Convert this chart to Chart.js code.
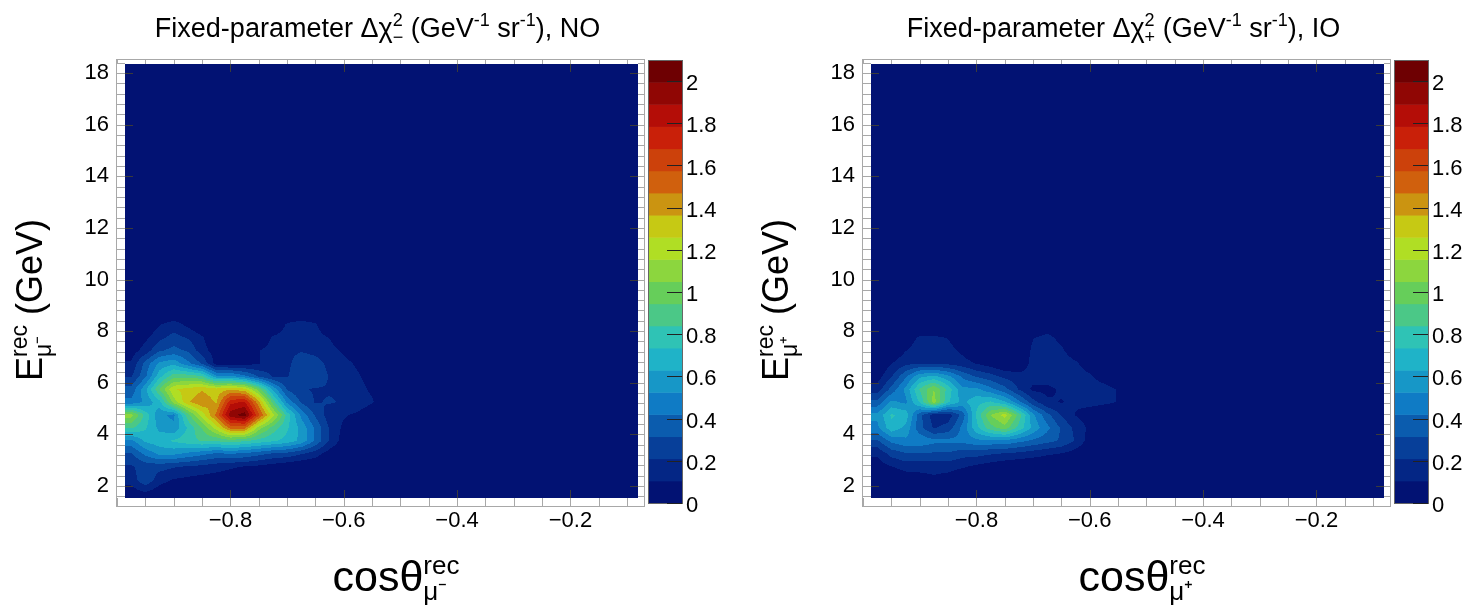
<!DOCTYPE html>
<html>
<head>
<meta charset="utf-8">
<script src="https://cdn.jsdelivr.net/npm/chart.js@4.4.1/dist/chart.umd.min.js"></script>
<style>
  html, body { margin: 0; padding: 0; background: #fff; }
  #wrap { position: relative; width: 1476px; height: 608px; overflow: hidden; }
  .panel { position: absolute; top: 0; width: 738px; height: 608px; }
  #left { left: 0; }
  #right { left: 738px; }
</style>
</head>
<body>
<div id="wrap">
  <div class="panel" id="left"><canvas id="chartNO" width="738" height="608"></canvas></div>
  <div class="panel" id="right"><canvas id="chartIO" width="738" height="608"></canvas></div>
</div>
<script>
// bin centres of the grid (cos theta, energy in GeV)
const cosBins = [-0.975, -0.95, -0.925, -0.9, -0.875, -0.85, -0.825, -0.8, -0.775, -0.75,
                 -0.725, -0.7, -0.675, -0.65, -0.625, -0.6, -0.575, -0.55, -0.525, -0.5];
const energyBins = [1.75, 2.25, 2.75, 3.25, 3.75, 4.25, 4.75, 5.25, 5.75, 6.25, 6.75, 7.25, 7.75, 8.25, 8.75];

// delta chi2 per bin, one row per energy bin (low to high)
const dchi2NO = [
  [0.05, 0.10, 0.04, 0.02, 0, 0, 0, 0, 0, 0, 0, 0, 0, 0, 0, 0, 0, 0, 0, 0],
  [0.15, 0.30, 0.15, 0.10, 0.08, 0.06, 0.05, 0.04, 0.03, 0.02, 0.01, 0, 0, 0, 0, 0, 0, 0, 0, 0],
  [0.20, 0.25, 0.25, 0.22, 0.20, 0.18, 0.15, 0.12, 0.10, 0.08, 0.05, 0.02, 0, 0, 0, 0, 0, 0, 0, 0],
  [0.30, 0.45, 0.55, 0.55, 0.50, 0.45, 0.40, 0.42, 0.40, 0.35, 0.30, 0.28, 0.22, 0.15, 0.05, 0, 0, 0, 0, 0],
  [0.50, 0.65, 0.70, 0.75, 0.80, 0.85, 0.85, 0.90, 0.85, 0.80, 0.75, 0.70, 0.60, 0.40, 0.20, 0.05, 0, 0, 0, 0],
  [0.85, 0.75, 0.60, 0.55, 0.75, 0.95, 1.20, 1.50, 1.50, 1.10, 0.90, 0.75, 0.60, 0.40, 0.20, 0.08, 0, 0, 0, 0],
  [1.10, 0.80, 0.55, 0.50, 0.90, 1.20, 1.50, 1.95, 2.05, 1.60, 1.20, 0.80, 0.50, 0.30, 0.15, 0.12, 0.08, 0, 0, 0],
  [0.45, 0.55, 0.70, 1.10, 1.35, 1.45, 1.35, 1.75, 1.80, 1.40, 0.90, 0.50, 0.30, 0.20, 0.22, 0.20, 0.18, 0.12, 0, 0],
  [0.35, 0.60, 0.95, 1.25, 1.30, 1.35, 1.30, 1.35, 1.30, 1.00, 0.60, 0.30, 0.22, 0.20, 0.20, 0.18, 0.15, 0.08, 0, 0],
  [0.20, 0.40, 0.70, 0.90, 0.90, 0.85, 0.55, 0.55, 0.45, 0.30, 0.20, 0.20, 0.30, 0.30, 0.20, 0.18, 0.12, 0.05, 0, 0],
  [0.12, 0.35, 0.55, 0.60, 0.45, 0.30, 0.06, 0.05, 0.06, 0.10, 0.15, 0.18, 0.28, 0.25, 0.18, 0.15, 0.08, 0, 0, 0],
  [0.05, 0.15, 0.30, 0.35, 0.30, 0.15, 0.05, 0, 0, 0.10, 0.15, 0.18, 0.20, 0.18, 0.15, 0.08, 0, 0, 0, 0],
  [0, 0.08, 0.18, 0.25, 0.20, 0.12, 0, 0, 0, 0, 0.12, 0.15, 0.18, 0.15, 0.10, 0, 0, 0, 0, 0],
  [0, 0, 0.10, 0.15, 0.08, 0, 0, 0, 0, 0, 0, 0.12, 0.15, 0.12, 0, 0, 0, 0, 0, 0],
  [0, 0, 0, 0, 0, 0, 0, 0, 0, 0, 0, 0, 0, 0, 0, 0, 0, 0, 0, 0]
];
const dchi2IO = [
  [0, 0, 0, 0, 0, 0, 0, 0, 0, 0, 0, 0, 0, 0, 0, 0, 0, 0, 0, 0],
  [0, 0, 0.03, 0.05, 0.08, 0.05, 0, 0, 0, 0, 0, 0, 0, 0, 0, 0, 0, 0, 0, 0],
  [0.05, 0.10, 0.15, 0.15, 0.15, 0.15, 0.12, 0.08, 0.05, 0.02, 0, 0, 0, 0, 0, 0, 0, 0, 0, 0],
  [0.12, 0.25, 0.30, 0.30, 0.30, 0.30, 0.25, 0.25, 0.22, 0.20, 0.18, 0.15, 0.12, 0.10, 0.05, 0, 0, 0, 0, 0],
  [0.30, 0.45, 0.50, 0.50, 0.45, 0.45, 0.45, 0.50, 0.50, 0.50, 0.45, 0.40, 0.35, 0.30, 0.20, 0.05, 0, 0, 0, 0],
  [0.50, 0.70, 0.60, 0.35, 0.20, 0.25, 0.45, 0.70, 0.90, 1.00, 0.80, 0.60, 0.45, 0.30, 0.18, 0.08, 0, 0, 0, 0],
  [0.55, 0.75, 0.70, 0.35, 0.15, 0.15, 0.35, 0.75, 1.05, 1.20, 0.90, 0.55, 0.35, 0.20, 0.10, 0.05, 0, 0, 0, 0],
  [0.35, 0.55, 0.50, 0.75, 1.10, 0.75, 0.60, 0.70, 0.75, 0.65, 0.45, 0.25, 0.12, 0.10, 0.12, 0.14, 0.13, 0.10, 0, 0],
  [0.15, 0.35, 0.55, 0.85, 1.05, 0.80, 0.55, 0.55, 0.45, 0.35, 0.20, 0.08, 0.08, 0.12, 0.15, 0.15, 0.14, 0.10, 0, 0],
  [0.05, 0.20, 0.40, 0.60, 0.65, 0.55, 0.40, 0.30, 0.25, 0.18, 0.15, 0.15, 0.15, 0.18, 0.15, 0.12, 0.06, 0, 0, 0],
  [0, 0.10, 0.18, 0.20, 0.20, 0.18, 0.15, 0.10, 0.05, 0, 0, 0.15, 0.18, 0.15, 0.12, 0.05, 0, 0, 0, 0],
  [0, 0, 0.10, 0.15, 0.15, 0.15, 0.08, 0, 0, 0, 0, 0.13, 0.15, 0.12, 0.05, 0, 0, 0, 0, 0],
  [0, 0, 0.05, 0.12, 0.12, 0.10, 0, 0, 0, 0, 0, 0.10, 0.13, 0.08, 0, 0, 0, 0, 0, 0],
  [0, 0, 0, 0, 0, 0, 0, 0, 0, 0, 0, 0, 0.05, 0, 0, 0, 0, 0, 0, 0],
  [0, 0, 0, 0, 0, 0, 0, 0, 0, 0, 0, 0, 0, 0, 0, 0, 0, 0, 0, 0]
];

const xTicks = [-0.8, -0.6, -0.4, -0.2];
const yTicks = [2, 4, 6, 8, 10, 12, 14, 16, 18];
const zTicks = [0, 0.2, 0.4, 0.6, 0.8, 1, 1.2, 1.4, 1.6, 1.8, 2];
const zMax = 2.1;
const nLevels = 20;

// ROOT kRainBow palette stops
const rbStops = [0, 0.125, 0.25, 0.375, 0.5, 0.625, 0.75, 0.875, 1];
const rbRed   = [0, 5, 15, 35, 102, 196, 208, 199, 110];
const rbGreen = [0, 48, 124, 192, 206, 226, 97, 16, 0];
const rbBlue  = [99, 142, 198, 201, 90, 22, 13, 8, 2];

const FONT = '"Liberation Sans", Arial, Helvetica, sans-serif';

function paletteAt(f) {
  let k = 0;
  while (k < rbStops.length - 2 && f > rbStops[k + 1]) k++;
  const t = (f - rbStops[k]) / (rbStops[k + 1] - rbStops[k]);
  const mix = arr => Math.round(arr[k] + (arr[k + 1] - arr[k]) * t);
  return [mix(rbRed), mix(rbGreen), mix(rbBlue)];
}

// one colour per contour band, picked like ROOT does from a 255 colour palette
const bandColours = [];
for (let i = 0; i < nLevels; i++) {
  const idx = Math.min(254, Math.floor(0.01 + (i + 0.99) * 255 / nLevels));
  bandColours.push(paletteAt(idx / 254));
}
const rgb = c => `rgb(${c[0]},${c[1]},${c[2]})`;

function sampleGrid(grid, cv, ev) {
  const clamp = (v, n) => Math.max(0, Math.min(n - 1, v));
  const fi = clamp((cv - cosBins[0]) / (cosBins[1] - cosBins[0]), cosBins.length);
  const fj = clamp((ev - energyBins[0]) / (energyBins[1] - energyBins[0]), energyBins.length);
  const i0 = Math.min(Math.floor(fi), cosBins.length - 2), j0 = Math.min(Math.floor(fj), energyBins.length - 2);
  const ti = fi - i0, tj = fj - j0;
  const a = grid[j0][i0], b = grid[j0][i0 + 1], c = grid[j0 + 1][i0], d = grid[j0 + 1][i0 + 1];
  return (a * (1 - ti) + b * ti) * (1 - tj) + (c * (1 - ti) + d * ti) * tj;
}

// text with super/subscripts: parts are {t, s, dy} or {sup, sub, s}
function partWidth(ctx, p) {
  ctx.font = `${p.s}px ${FONT}`;
  if (p.t !== undefined) return ctx.measureText(p.t).width;
  return Math.max(ctx.measureText(p.sup).width, ctx.measureText(p.sub).width);
}
function drawRich(ctx, parts, cx, baseY, supUp, subDown) {
  const total = parts.reduce((w, p) => w + partWidth(ctx, p), 0);
  let x = cx - total / 2;
  ctx.textAlign = 'left';
  ctx.textBaseline = 'alphabetic';
  parts.forEach(p => {
    const w = partWidth(ctx, p);
    ctx.font = `${p.s}px ${FONT}`;
    if (p.t !== undefined) {
      ctx.fillText(p.t, x, baseY + (p.dy || 0));
    } else {
      ctx.fillText(p.sup, x, baseY - supUp);
      ctx.fillText(p.sub, x, baseY + subDown);
    }
    x += w;
  });
}

const contourPlugin = {
  id: 'contour',
  beforeDatasetsDraw(chart, args, opts) {
    const { ctx, chartArea: a, scales: { x, y } } = chart;
    const L = Math.round(a.left), T = Math.round(a.top);
    const w = Math.round(a.right) - L, h = Math.round(a.bottom) - T;

    // white frame with tick ladder around the plot
    ctx.save();
    ctx.fillStyle = '#fff';
    ctx.fillRect(L - 8, T - 4, w + 14, h + 12);
    ctx.strokeStyle = '#a8a8a8';
    ctx.lineWidth = 1;
    ctx.strokeRect(L - 8.5, T - 4.5, w + 15, h + 13);
    ctx.beginPath();
    for (let k = 0; k < yTicks.length; k++) {
      for (let m = -1; m < 4; m++) {
        const v = yTicks[k] + (m + 1) * 0.4 - 0.4;
        const py = Math.round(y.getPixelForValue(v)) + 0.5;
        if (py < T - 4 || py > T + h + 8) continue;
        ctx.moveTo(L - 8, py); ctx.lineTo(L, py);
        ctx.moveTo(L + w, py); ctx.lineTo(L + w + 6, py);
      }
    }
    for (let v = -1.0; v < 0; v += 0.05) {
      const px = Math.round(x.getPixelForValue(v)) + 0.5;
      if (px < L - 8 || px > L + w + 6) continue;
      ctx.moveTo(px, T - 4); ctx.lineTo(px, T);
      ctx.moveTo(px, T + h); ctx.lineTo(px, T + h + 8);
    }
    ctx.stroke();
    ctx.restore();

    // filled contours
    const grid = opts.grid;
    const img = ctx.createImageData(w, h);
    const cosCol = [];
    for (let i = 0; i < w; i++) cosCol.push(x.getValueForPixel(L + i + 0.5));
    const step = zMax / nLevels;
    for (let j = 0; j < h; j++) {
      const ev = y.getValueForPixel(T + j + 0.5);
      for (let i = 0; i < w; i++) {
        const z = sampleGrid(grid, cosCol[i], ev);
        const band = Math.max(0, Math.min(nLevels - 1, Math.floor(z / step)));
        const c = bandColours[band];
        const k = (j * w + i) * 4;
        img.data[k] = c[0]; img.data[k + 1] = c[1]; img.data[k + 2] = c[2]; img.data[k + 3] = 255;
      }
    }
    ctx.putImageData(img, L, T);

    // major ticks pointing in
    ctx.save();
    ctx.strokeStyle = '#3a3a3a';
    ctx.lineWidth = 1;
    ctx.beginPath();
    yTicks.forEach(v => {
      const py = Math.round(y.getPixelForValue(v)) + 0.5;
      ctx.moveTo(L, py); ctx.lineTo(L + 8, py);
      ctx.moveTo(L + w, py); ctx.lineTo(L + w - 8, py);
    });
    xTicks.forEach(v => {
      const px = Math.round(x.getPixelForValue(v)) + 0.5;
      ctx.moveTo(px, T + h); ctx.lineTo(px, T + h - 8);
      ctx.moveTo(px, T); ctx.lineTo(px, T + 8);
    });
    ctx.stroke();
    ctx.restore();
  },
  afterDraw(chart, args, opts) {
    const { ctx, chartArea: a } = chart;
    ctx.save();
    ctx.fillStyle = '#000';

    // colour bar
    const bx = Math.round(a.right) + 10, bw = 34, bTop = 60, bBot = 503;
    const zpix = v => bBot - v / zMax * (bBot - bTop);
    for (let i = 0; i < nLevels; i++) {
      const y0 = zpix(i * zMax / nLevels), y1 = zpix((i + 1) * zMax / nLevels);
      ctx.fillStyle = rgb(bandColours[i]);
      ctx.fillRect(bx, y1, bw, y0 - y1 + 0.5);
    }
    ctx.strokeStyle = '#666';
    ctx.lineWidth = 1;
    ctx.strokeRect(bx + 0.5, bTop + 0.5, bw, bBot - bTop);
    ctx.strokeStyle = '#222';
    ctx.beginPath();
    zTicks.forEach(v => {
      const py = Math.round(zpix(v)) + 0.5;
      ctx.moveTo(bx + bw - 15, py); ctx.lineTo(bx + bw, py);
    });
    ctx.stroke();
    ctx.fillStyle = '#000';
    ctx.font = `22px ${FONT}`;
    ctx.textAlign = 'left';
    ctx.textBaseline = 'middle';
    zTicks.forEach(v => {
      ctx.fillText(String(+v.toFixed(1)), bx + bw + 4, zpix(v) + 3);
    });

    // title
    const cxTitle = (a.left + a.right) / 2 - 4;
    drawRich(ctx, [
      { t: 'Fixed-parameter ', s: 27 },
      { t: '\u0394\u03c7', s: 27 },
      { sup: '2', sub: opts.sign, s: 18 },
      { t: ' (GeV', s: 27 },
      { t: '-1', s: 18, dy: -11 },
      { t: ' sr', s: 27 },
      { t: '-1', s: 18, dy: -11 },
      { t: '), ' + opts.order, s: 27 }
    ], cxTitle, 37, 11, 6);

    // x axis title
    drawRich(ctx, [
      { t: 'cos\u03b8', s: 43 },
      { sup: 'rec', sub: opts.muon, s: 26 }
    ], a.left + 271, 591, 17, 9);

    // y axis title (rotated)
    ctx.translate(a.left - 83, 300);
    ctx.rotate(-Math.PI / 2);
    drawRich(ctx, [
      { t: 'E', s: 36 },
      { sup: 'rec', sub: opts.muon, s: 23 },
      { t: ' (GeV)', s: 36 }
    ], 0, 0, 15, 9);
    ctx.restore();
  }
};

function makePanel(canvasId, grid, axisWidth, padRight, extra) {
  return new Chart(document.getElementById(canvasId), {
    type: 'scatter',
    data: { datasets: [] },
    options: {
      responsive: false,
      animation: false,
      devicePixelRatio: 1,
      layout: { padding: { top: 64, right: padRight, left: 0, bottom: 0 } },
      plugins: {
        legend: { display: false },
        tooltip: { enabled: false },
        contour: Object.assign({ grid }, extra)
      },
      scales: {
        x: {
          type: 'linear',
          min: -0.986,
          max: -0.0807,
          afterFit: s => { s.height = 110; },
          afterBuildTicks: s => { s.ticks = xTicks.map(v => ({ value: v })); },
          grid: { display: false, drawTicks: false },
          border: { display: false },
          ticks: {
            color: '#000',
            font: { family: FONT, size: 22 },
            padding: 10,
            maxRotation: 0,
            autoSkip: false,
            callback: v => (v < 0 ? '\u2212' : '') + Math.abs(v).toFixed(1)
          }
        },
        y: {
          type: 'linear',
          min: 1.535,
          max: 18.35,
          afterFit: s => { s.width = axisWidth; },
          afterBuildTicks: s => { s.ticks = yTicks.map(v => ({ value: v })); },
          grid: { display: false, drawTicks: false },
          border: { display: false },
          ticks: {
            color: '#000',
            font: { family: FONT, size: 22 },
            padding: 16,
            autoSkip: false,
            callback: v => String(v)
          }
        }
      }
    },
    plugins: [contourPlugin]
  });
}

makePanel('chartNO', dchi2NO, 125, 100, { sign: '\u2212', order: 'NO', muon: '\u03bc\u207b' });
makePanel('chartIO', dchi2IO, 133, 92, { sign: '+', order: 'IO', muon: '\u03bc\u207a' });
</script>
</body>
</html>
